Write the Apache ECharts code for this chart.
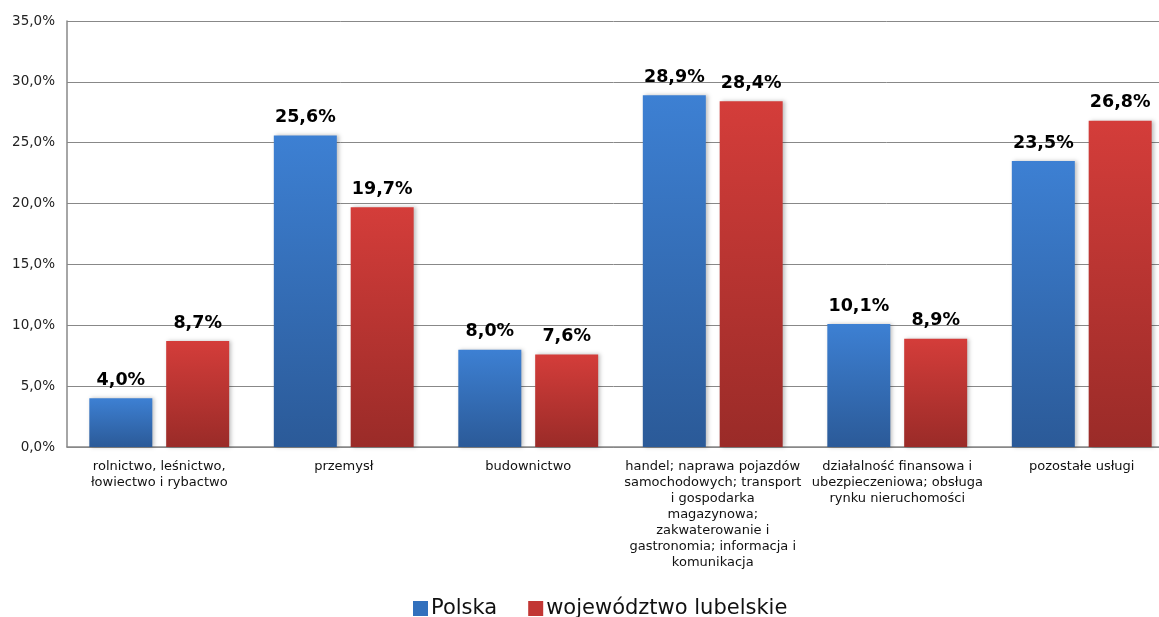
<!DOCTYPE html>
<html><head><meta charset="utf-8">
<script src="https://cdn.jsdelivr.net/npm/echarts@6/dist/echarts.min.js"></script>
<style>html,body{margin:0;padding:0;background:#fff}#c{width:1159px;height:617px}</style>
</head><body><div id="c"></div>
<script>
const categories = [
  "rolnictwo, leśnictwo,\nłowiectwo i rybactwo",
  "przemysł",
  "budownictwo",
  "handel; naprawa pojazdów\nsamochodowych; transport\ni gospodarka\nmagazynowa;\nzakwaterowanie i\ngastronomia; informacja i\nkomunikacja",
  "działalność finansowa i\nubezpieczeniowa; obsługa\nrynku nieruchomości",
  "pozostałe usługi"
];
const polska = [4.0, 25.6, 8.0, 28.9, 10.1, 23.5];
const lubelskie = [8.7, 19.7, 7.6, 28.4, 8.9, 26.8];
const seriesNames = ["Polska", "województwo lubelskie"];

const fmt = v => v.toFixed(1).replace('.', ',') + '%';
const font = '"DejaVu Sans"';
const grad = (a, b) => new echarts.graphic.LinearGradient(0, 0, 0, 1, [{offset:0,color:a},{offset:1,color:b}]);
const blue = grad('#3d80d3', '#2b5a98');
const red = grad('#d43d3a', '#9a2b28');
const labelStyle = {show: true, position: 'top', distance: 9, formatter: p => fmt(p.value), fontFamily: font, fontSize: 17.5, fontWeight: 'bold', color: '#000'};

const chart = echarts.init(document.getElementById('c'));
chart.setOption({
  animation: false,
  grid: {left: 67, right: -15, top: 21, bottom: 170, outerBoundsMode: 'none', containLabel: false},
  legend: {
    bottom: -7, left: 408, itemWidth: 15, itemHeight: 15, itemGap: 31,
    textStyle: {fontFamily: font, fontSize: 21, color: '#111', padding: [0, 0, 0, -2]},
    data: [{name: seriesNames[0], icon: 'rect', itemStyle:{color:'#3270bd'}}, {name: seriesNames[1], icon: 'rect', itemStyle:{color:'#c23634'}}]
  },
  xAxis: {
    type: 'category', data: categories,
    axisLine: {lineStyle: {color: '#888', width: 1.5}}, axisTick: {show: false},
    axisLabel: {interval: 0, fontFamily: font, fontSize: 13, color: '#111', lineHeight: 16, margin: 12}
  },
  yAxis: {
    type: 'value', min: 0, max: 35, interval: 5,
    axisLine: {show: true, lineStyle: {color: '#888', width: 1.5}}, axisTick: {show: false},
    splitLine: {lineStyle: {color: '#888', width: 1}},
    axisLabel: {fontFamily: font, fontSize: 13.5, color: '#222', formatter: v => v.toFixed(1).replace('.', ',') + '%', margin: 12}
  },
  series: [
    {name: seriesNames[0], type: 'bar', data: polska, barWidth: 63, barGap: '22%',
     itemStyle: {color: blue, shadowColor:'rgba(0,0,0,0.25)', shadowBlur:4, shadowOffsetX:2},
     label: labelStyle},
    {name: seriesNames[1], type: 'bar', data: lubelskie, barWidth: 63,
     itemStyle: {color: red, shadowColor:'rgba(0,0,0,0.25)', shadowBlur:4, shadowOffsetX:2},
     label: labelStyle}
  ]
});
</script></body></html>
